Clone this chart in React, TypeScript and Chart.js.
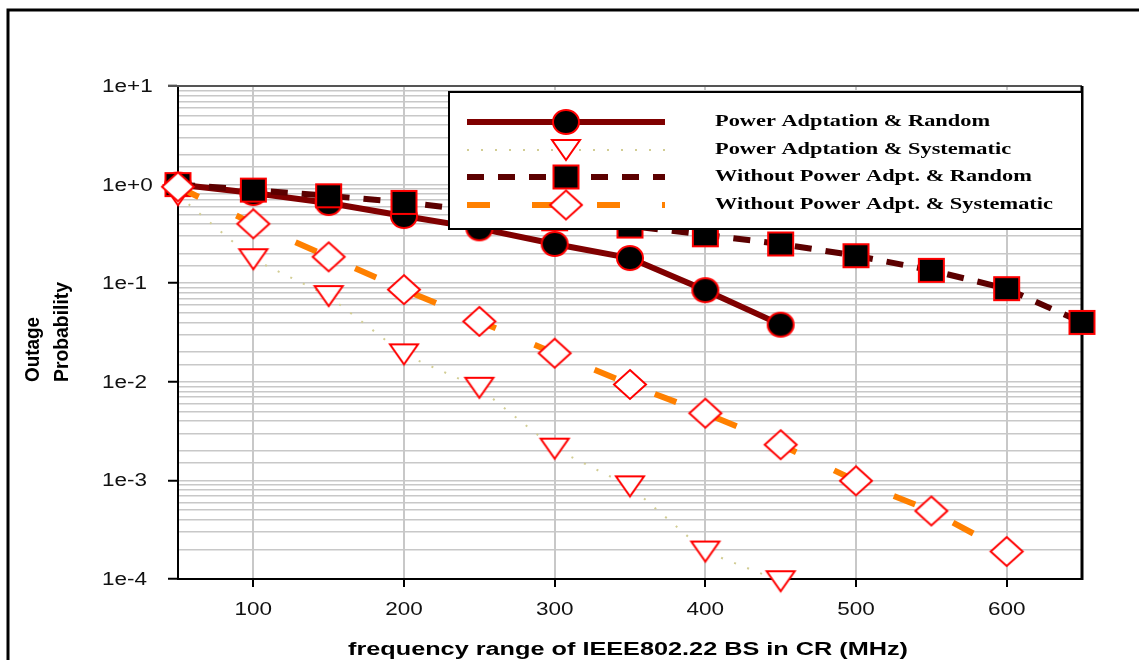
import React, { useEffect, useRef } from 'react';
import { Chart, registerables } from 'chart.js';

Chart.register(...registerables);

// ---------- data ----------
const xValues = [50, 100, 150, 200, 250, 300, 350, 400, 450, 500, 550, 600, 650];
const powerAdptRandom = [1.0, 0.82, 0.65, 0.48, 0.36, 0.25, 0.18, 0.085, 0.038];
const powerAdptSystematic = [0.78, 0.175, 0.074, 0.019, 0.0087, 0.0021, 0.00087, 0.00019, 0.000095];
const noPowerRandom = [1.0, 0.88, 0.77, 0.66, 0.54, 0.45, 0.38, 0.31, 0.25, 0.19, 0.135, 0.088, 0.04];
const noPowerSystematic = [0.95, 0.4, 0.185, 0.086, 0.041, 0.0195, 0.0094, 0.0048, 0.0023, 0.00099, 0.00049, 0.00019];
const seriesNames = [
  'Power Adptation & Random',
  'Power Adptation & Systematic',
  'Without Power Adpt. & Random',
  'Without Power Adpt. & Systematic',
];
const yTickLabels = ['1e-4', '1e-3', '1e-2', '1e-1', '1e+0', '1e+1'];
const xTickValues = [100, 200, 300, 400, 500, 600];
const xTitle = 'frequency range of IEEE802.22 BS in CR (MHz)';
const yTitleLines = ['Outage', 'Probability'];

const W = 1139;
const H = 660;

function makeMarker(kind: string): HTMLCanvasElement {
  const pad = 3;
  let w = 26, h = 24;
  if (kind === 'square') { w = 25; h = 23; }
  if (kind === 'triangle') { w = 28; h = 20; }
  if (kind === 'diamond') { w = 32; h = 29; }
  const c = document.createElement('canvas');
  c.width = w + pad * 2;
  c.height = h + pad * 2;
  const ctx = c.getContext('2d')!;
  ctx.lineWidth = 2;
  ctx.strokeStyle = '#ff0000';
  ctx.beginPath();
  if (kind === 'circle') {
    ctx.ellipse(pad + w / 2, pad + h / 2, w / 2, h / 2, 0, 0, Math.PI * 2);
    ctx.fillStyle = '#000';
  } else if (kind === 'square') {
    ctx.rect(pad, pad, w, h);
    ctx.fillStyle = '#000';
  } else if (kind === 'triangle') {
    ctx.moveTo(pad, pad);
    ctx.lineTo(pad + w, pad);
    ctx.lineTo(pad + w / 2, pad + h);
    ctx.closePath();
    ctx.fillStyle = '#fff';
  } else {
    ctx.moveTo(pad + w / 2, pad);
    ctx.lineTo(pad + w, pad + h / 2);
    ctx.lineTo(pad + w / 2, pad + h);
    ctx.lineTo(pad, pad + h / 2);
    ctx.closePath();
    ctx.fillStyle = '#fff';
  }
  ctx.fill();
  ctx.stroke();
  return c;
}

function drawText(
  ctx: CanvasRenderingContext2D,
  text: string,
  x: number,
  y: number,
  font: string,
  sx: number,
  align: 'left' | 'center' | 'right',
  color = '#000'
) {
  ctx.save();
  ctx.font = font;
  ctx.fillStyle = color;
  ctx.textBaseline = 'middle';
  ctx.textAlign = 'left';
  const w = ctx.measureText(text).width * sx;
  const left = align === 'left' ? x : align === 'center' ? x - w / 2 : x - w;
  ctx.translate(left, y);
  ctx.scale(sx, 1);
  ctx.fillText(text, 0, 0);
  ctx.restore();
}

function measure(ctx: CanvasRenderingContext2D, text: string, font: string) {
  ctx.save();
  ctx.font = font;
  const w = ctx.measureText(text).width;
  ctx.restore();
  return w;
}

function isPow10(v: number) {
  const l = Math.log10(v);
  return Math.abs(l - Math.round(l)) < 1e-6;
}

export default function App() {
  const ref = useRef<HTMLCanvasElement | null>(null);

  useEffect(() => {
    const canvas = ref.current;
    if (!canvas) return;
    const markers = [makeMarker('circle'), makeMarker('triangle'), makeMarker('square'), makeMarker('diamond')];
    const lineStyles = [
      { color: '#800000', width: 6, dash: [] as number[] },
      { color: '#d2cd94', width: 2, dash: [2, 12] },
      { color: '#5c0000', width: 6, dash: [17, 14] },
      { color: '#ff8000', width: 6, dash: [23, 42] },
    ];
    const seriesValues = [powerAdptRandom, powerAdptSystematic, noPowerRandom, noPowerSystematic];

    const datasets = seriesValues.map((vals, i) => ({
      label: seriesNames[i],
      data: vals.map((v, j) => ({ x: xValues[j], y: v })),
      borderColor: lineStyles[i].color,
      backgroundColor: lineStyles[i].color,
      borderWidth: lineStyles[i].width,
      borderDash: lineStyles[i].dash,
      pointStyle: markers[i] as any,
      pointRadius: 12,
      pointHoverRadius: 12,
      tension: 0,
      fill: false,
      clip: false as any,
      order: [4, 3, 2, 1][i],
    }));

    const tickFont = '18px "Liberation Sans", Arial, sans-serif';
    const tickSx = 1.25;

    const custom = {
      id: 'custom',
      beforeDraw(chart: any) {
        const ctx: CanvasRenderingContext2D = chart.ctx;
        ctx.save();
        ctx.fillStyle = '#fff';
        ctx.fillRect(0, 0, W, H);
        ctx.strokeStyle = '#000';
        ctx.lineWidth = 3;
        ctx.strokeRect(8, 10, W + 50, H + 50);
        ctx.restore();
      },
      beforeDatasetsDraw(chart: any) {
        const ctx: CanvasRenderingContext2D = chart.ctx;
        const a = chart.chartArea;
        ctx.save();
        ctx.strokeStyle = '#555';
        ctx.lineWidth = 2;
        ctx.beginPath();
        ctx.moveTo(a.left - 10, a.top);
        ctx.lineTo(a.right, a.top);
        ctx.stroke();
        ctx.strokeStyle = '#000';
        ctx.lineWidth = 3;
        ctx.beginPath();
        ctx.moveTo(a.right, a.top);
        ctx.lineTo(a.right, a.bottom + 1);
        ctx.stroke();
        ctx.restore();
      },
      afterDatasetsDraw(chart: any) {
        const ctx: CanvasRenderingContext2D = chart.ctx;
        // legend box
        const lx = 449, ly = 92, lw = 633, lh = 137;
        ctx.save();
        ctx.fillStyle = '#fff';
        ctx.fillRect(lx, ly, lw, lh);
        ctx.strokeStyle = '#000';
        ctx.lineWidth = 2;
        ctx.strokeRect(lx, ly, lw, lh);
        const rows = [122, 150, 177, 205];
        const legFont = 'bold 17px "Liberation Serif", "Times New Roman", serif';
        const legSx = 275 / measure(ctx, seriesNames[0], legFont);
        rows.forEach((ry, i) => {
          const st = lineStyles[i];
          ctx.save();
          ctx.strokeStyle = st.color;
          ctx.lineWidth = st.width;
          ctx.setLineDash(st.dash);
          ctx.beginPath();
          ctx.moveTo(467, ry);
          ctx.lineTo(665, ry);
          ctx.stroke();
          ctx.restore();
          const m = markers[i];
          ctx.drawImage(m, 566 - m.width / 2, ry - m.height / 2);
          drawText(ctx, seriesNames[i], 715, ry, legFont, legSx, 'left', '#000');
        });
        ctx.restore();
      },
      afterDraw(chart: any) {
        const ctx: CanvasRenderingContext2D = chart.ctx;
        const xs = chart.scales.x;
        const ys = chart.scales.y;
        // y tick labels
        yTickLabels.forEach((lab, i) => {
          const v = Math.pow(10, i - 4);
          const py = ys.getPixelForValue(v);
          drawText(ctx, lab, 102, py + 1, tickFont, tickSx, 'left', '#111');
        });
        // x tick labels
        xTickValues.forEach((v) => {
          const px = xs.getPixelForValue(v);
          drawText(ctx, String(v), px, 610, tickFont, tickSx, 'center', '#111');
        });
        // x title
        const xtFont = 'bold 18px "Liberation Sans", Arial, sans-serif';
        const xtSx = 560 / measure(ctx, xTitle, xtFont);
        drawText(ctx, xTitle, 628, 650, xtFont, xtSx, 'center', '#000');
        // y title (rotated, start-aligned)
        const ytFont = 'bold 21px "Liberation Sans", Arial, sans-serif';
        const targets = [65, 100];
        const centers = [33, 62];
        yTitleLines.forEach((t, i) => {
          const sx = targets[i] / measure(ctx, t, ytFont);
          ctx.save();
          ctx.translate(centers[i], 382);
          ctx.rotate(-Math.PI / 2);
          drawText(ctx, t, 0, 0, ytFont, sx, 'left', '#000');
          ctx.restore();
        });
      },
    };

    const chart = new Chart(canvas, {
      type: 'line',
      data: { datasets: datasets as any },
      options: {
        animation: false,
        responsive: false,
        devicePixelRatio: 1,
        events: [],
        layout: { padding: { left: 0, top: 86, right: 57, bottom: 0 } },
        plugins: {
          legend: { display: false },
          tooltip: { enabled: false },
          title: { display: false },
        },
        scales: {
          x: {
            type: 'linear',
            min: 50,
            max: 650,
            afterBuildTicks: (s: any) => {
              s.ticks = xTickValues.map((v) => ({ value: v }));
            },
            ticks: {
              autoSkip: false,
              maxRotation: 0,
              color: 'rgba(0,0,0,0)',
              font: { size: 18 },
              padding: 12,
            } as any,
            grid: {
              color: '#c8c8c8',
              lineWidth: 2,
              tickLength: 8,
              tickColor: '#000',
              tickWidth: 2,
            } as any,
            border: { display: true, color: '#000', width: 2 },
            afterFit: (s: any) => {
              s.height = H - 579;
            },
          },
          y: {
            type: 'logarithmic',
            min: 1e-4,
            max: 10,
            ticks: {
              autoSkip: false,
              color: 'rgba(0,0,0,0)',
              font: { size: 18 },
              callback: (v: any) => (isPow10(Number(v)) ? String(v) : ''),
            },
            grid: {
              color: (c: any) => (c.tick && Math.abs(c.tick.value - 10) < 1e-9 ? '#555' : '#c8c8c8'),
              lineWidth: 1.5,
              tickLength: 10,
              tickColor: (c: any) => (c.tick && isPow10(c.tick.value) ? '#000' : 'rgba(0,0,0,0)'),
              tickWidth: 2,
            } as any,
            border: { display: true, color: '#000', width: 2 },
            afterFit: (s: any) => {
              s.width = 178;
            },
          },
        },
      },
      plugins: [custom as any],
    });

    return () => chart.destroy();
  }, []);

  return (
    <div style={{ position: 'fixed', left: 0, top: 0, width: W, height: H, background: '#fff' }}>
      <canvas ref={ref} width={W} height={H} style={{ display: 'block', width: W, height: H }} />
    </div>
  );
}
